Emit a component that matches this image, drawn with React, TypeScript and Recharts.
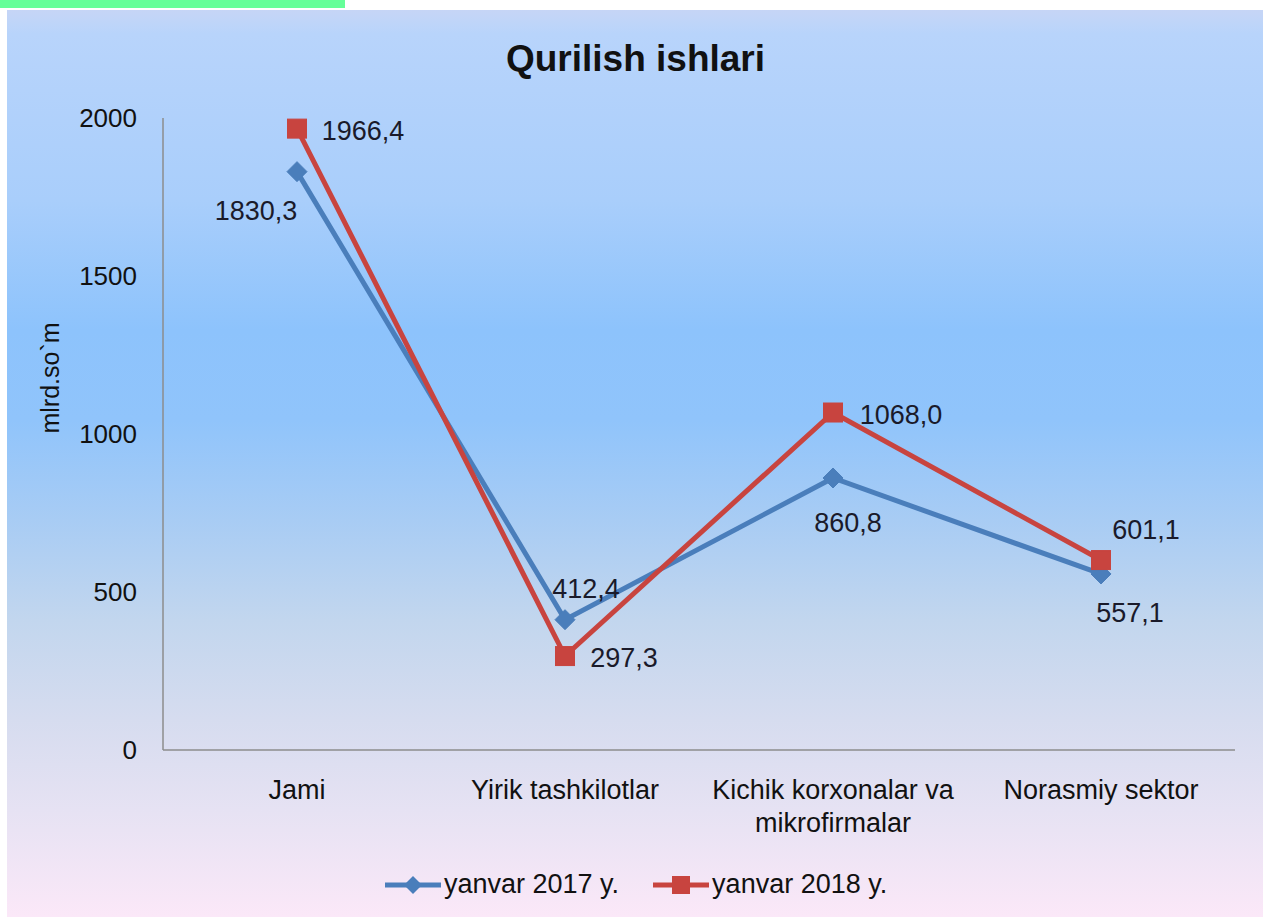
import React from "react";
import { LineChart, Line, XAxis, YAxis, LabelList } from "recharts";

const categories = ["Jami", "Yirik tashkilotlar", "Kichik korxonalar va\nmikrofirmalar", "Norasmiy sektor"];
const series2017 = [1830.3, 412.4, 860.8, 557.1];
const series2018 = [1966.4, 297.3, 1068.0, 601.1];
const yTicks = [0, 500, 1000, 1500, 2000];
const seriesNames = ["yanvar 2017 y.", "yanvar 2018 y."];

const data = categories.map((name, i) => ({ name, v2017: series2017[i], v2018: series2018[i] }));

const BLUE = "#4a7ebb";
const RED = "#c8443f";
const FONT = "'Liberation Sans', Arial, sans-serif";

const off2017 = [
  [-41, 38],
  [21, -32],
  [15, 44],
  [29, 38],
];
const off2018 = [
  [66, 1],
  [59, 1],
  [68, 1],
  [45, -31],
];

const fmt = (v: number) => v.toFixed(1).replace(".", ",");

const makeLabel = (offs: number[][]) => (props: any) => {
  const { x, y, index, value } = props;
  const [dx, dy] = offs[index];
  return (
    <text x={x + dx} y={y + dy} dy={10} textAnchor="middle" fontSize={27} fontFamily={FONT} fill="#1a1a2a">
      {fmt(value)}
    </text>
  );
};

const Diamond = (props: any) => {
  const { cx, cy } = props;
  const r = 10;
  return <polygon points={`${cx},${cy - r} ${cx + r},${cy} ${cx},${cy + r} ${cx - r},${cy}`} fill={BLUE} stroke={BLUE} strokeWidth={1} />;
};

const Square = (props: any) => {
  const { cx, cy } = props;
  const s = 19;
  return <rect x={cx - s / 2} y={cy - s / 2} width={s} height={s} fill={RED} stroke={RED} strokeWidth={1} />;
};

const CatTick = (props: any) => {
  const { x, y, payload } = props;
  const lines = String(payload.value).split("\n");
  return (
    <text x={x} y={y} textAnchor="middle" fontSize={27} fontFamily={FONT} fill="#111">
      {lines.map((l, i) => (
        <tspan key={i} x={x} dy={i === 0 ? 41 : 33}>
          {l}
        </tspan>
      ))}
    </text>
  );
};

const YLabel = (props: any) => {
  const { viewBox } = props;
  const x = viewBox.x - 53;
  const y = viewBox.y + viewBox.height / 2 - 56;
  return (
    <text x={x} y={y} transform={`rotate(-90, ${x}, ${y})`} textAnchor="middle" dy={9} fontSize={25} fontFamily={FONT} fill="#111">
      mlrd.so`m
    </text>
  );
};

const LegendItem = ({ color, shape, label }: { color: string; shape: "diamond" | "square"; label: string }) => (
  <div style={{ display: "flex", alignItems: "center", marginRight: 34 }}>
    <svg width={56} height={24}>
      <line x1={0} y1={12} x2={56} y2={12} stroke={color} strokeWidth={5} />
      {shape === "diamond" ? (
        <polygon points="28,3 37,12 28,21 19,12" fill={color} />
      ) : (
        <rect x={19} y={3} width={18} height={18} fill={color} />
      )}
    </svg>
    <span style={{ fontSize: 27, fontFamily: FONT, color: "#111", marginLeft: 3 }}>{label}</span>
  </div>
);

export default function App() {
  return (
    <div style={{ position: "absolute", left: 0, top: 0, width: 1263, height: 917, background: "#fff", overflow: "hidden" }}>
      <div style={{ position: "absolute", left: 0, top: 0, width: 345, height: 8, background: "#66ff99" }} />
      <div
        style={{
          position: "absolute",
          left: 7,
          top: 10,
          width: 1256,
          height: 907,
          background:
            "linear-gradient(to bottom, #c6d5f6 0px, #bed5f9 14px, #b8d4fb 24px, #a9cefb 190px, #8dc3fc 320px, #90c4fb 410px, #a8ccf4 510px, #c2d6ee 610px, #d6dcef 710px, #e6e2f3 800px, #fbe8f8 907px)",
        }}
      />
      <div
        style={{
          position: "absolute",
          left: 4,
          top: 36,
          width: 1263,
          textAlign: "center",
          fontFamily: FONT,
          fontWeight: "bold",
          fontSize: 37,
          color: "#111",
          lineHeight: "46px",
        }}
      >
        Qurilish ishlari
      </div>
      <div style={{ position: "absolute", left: 0, top: 0 }}>
        <LineChart width={1263} height={917} data={data} margin={{ top: 118, right: 28, bottom: 77, left: 103 }}>
          <XAxis
            dataKey="name"
            height={90}
            padding={{ left: 134, right: 134 }}
            tickLine={false}
            axisLine={{ stroke: "#8c8c8c", strokeWidth: 1.5 }}
            tick={<CatTick />}
            interval={0}
          />
          <YAxis
            width={60}
            domain={[0, 2000]}
            ticks={yTicks}
            tickLine={false}
            tickSize={0}
            tickMargin={26}
            axisLine={{ stroke: "#8c8c8c", strokeWidth: 1.5 }}
            tick={{ fontSize: 26, fontFamily: FONT, fill: "#111" }}
            label={<YLabel />}
          />
          <Line
            dataKey="v2017"
            name={seriesNames[0]}
            stroke={BLUE}
            strokeWidth={5}
            dot={<Diamond />}
            activeDot={false}
            isAnimationActive={false}
          >
            <LabelList dataKey="v2017" content={makeLabel(off2017)} />
          </Line>
          <Line
            dataKey="v2018"
            name={seriesNames[1]}
            stroke={RED}
            strokeWidth={5}
            dot={<Square />}
            activeDot={false}
            isAnimationActive={false}
          >
            <LabelList dataKey="v2018" content={makeLabel(off2018)} />
          </Line>
        </LineChart>
      </div>
      <div style={{ position: "absolute", left: 385, top: 869, display: "flex" }}>
        <LegendItem color={BLUE} shape="diamond" label={seriesNames[0]} />
        <LegendItem color={RED} shape="square" label={seriesNames[1]} />
      </div>
    </div>
  );
}
